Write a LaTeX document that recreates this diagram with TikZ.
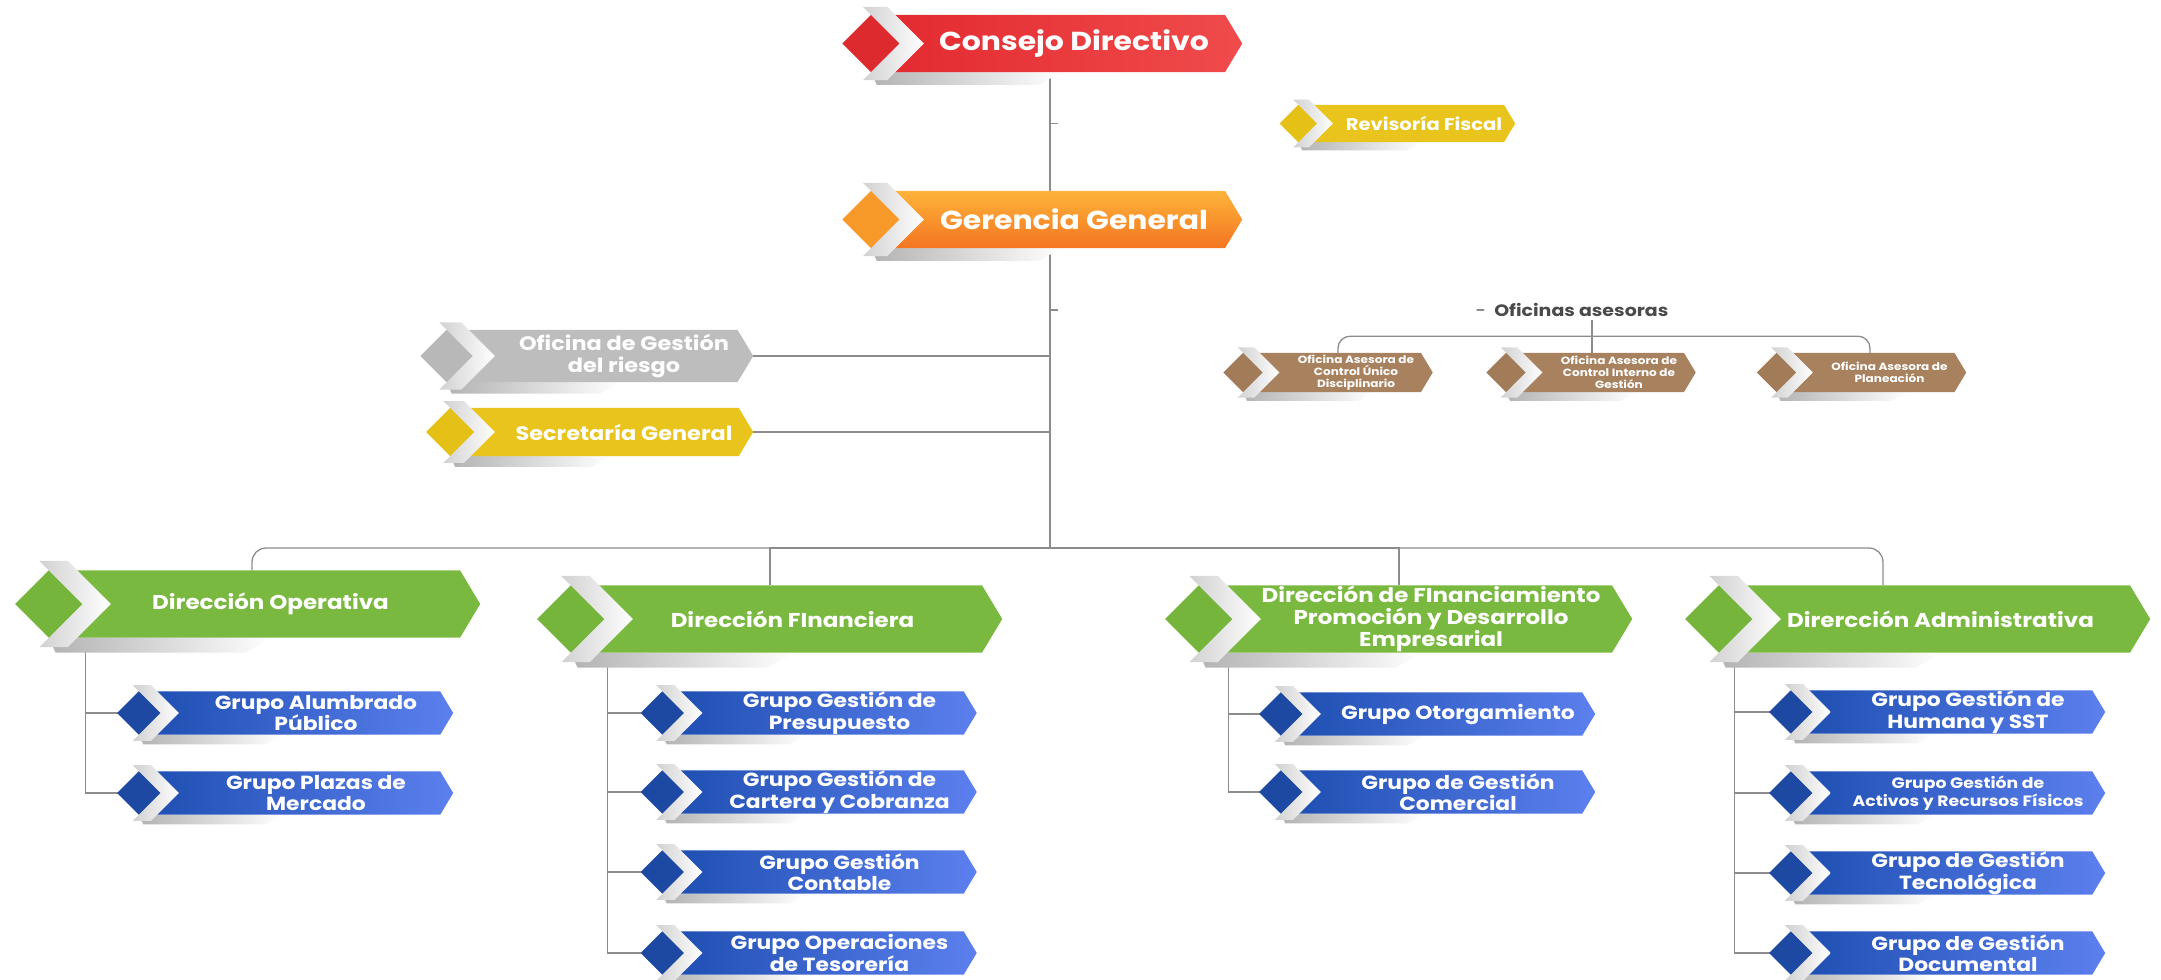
\documentclass[tikz,border=0pt]{standalone}
\usepackage{fontspec}
\setmainfont{Poppins}[FakeStretch=1.15]
\usetikzlibrary{backgrounds,calc}
\definecolor{RojoA}{HTML}{E2292F}
\definecolor{RojoB}{HTML}{F04B4C}
\definecolor{RojoDark}{HTML}{DC2A2E}
\definecolor{NaranjaA}{HTML}{FDB43A}
\definecolor{NaranjaB}{HTML}{F47421}
\definecolor{NaranjaDark}{HTML}{F79A2A}
\definecolor{Amarillo}{HTML}{E8C41C}
\definecolor{AmarilloDark}{HTML}{E5C016}
\definecolor{GrisBox}{HTML}{BDBDBD}
\definecolor{GrisDark}{HTML}{B8B8B8}
\definecolor{Cafe}{HTML}{A8825F}
\definecolor{CafeDark}{HTML}{A27C59}
\definecolor{Verde}{HTML}{7AB940}
\definecolor{VerdeDark}{HTML}{76B53C}
\definecolor{AzulA}{HTML}{1C4DAF}
\definecolor{AzulB}{HTML}{5C80EE}
\definecolor{AzulDark}{HTML}{1D49A3}
\definecolor{Linea}{HTML}{8C8C8C}
\definecolor{TextoGris}{HTML}{4A4A4A}
\pgfdeclarelayer{wires}
\pgfsetlayers{wires,background,main}
\tikzset{
  banner/.style={inner sep=0pt,align=center,text=white},
  topbox/.style={banner,minimum width=318,minimum height=57,
    font=\bfseries\fontsize{26}{30}\selectfont},
  sidebox/.style={banner,minimum width=258,minimum height=50,
    font=\bfseries\fontsize{19.5}{22}\selectfont},
  fiscalbox/.style={banner,minimum width=182,minimum height=37,
    font=\bfseries\fontsize{17}{20}\selectfont},
  asesorbox/.style={banner,minimum width=153,minimum height=39,
    font=\bfseries\fontsize{10.5}{12}\selectfont},
  dirbox/.style={banner,minimum width=319,minimum height=67,
    font=\bfseries\fontsize{20}{22}\selectfont},
  grupobox/.style={banner,minimum width=274,minimum height=43,
    font=\bfseries\fontsize{19}{21.5}\selectfont},
  wire/.style={draw=Linea,line width=1.3pt},
  note/.style={font=\bfseries\fontsize{16.5}{19}\selectfont,text=TextoGris}
}
% banner shape behind a node: diamond, white chevron, body with tip, shadow
% optional: how far the tip reaches beyond the node
\newcommand{\banner}[4][0pt]{%
  \begin{pgfonlayer}{background}
  \path let \p1=(#2.north west), \p2=(#2.south east),
      \n1={\y1-\y2}, \n2={0.42*(\y1-\y2)}, \n3={0.5*(\y1+\y2)},
      \n4={0.14*(\y1-\y2)}, \n5={0.3*(\y1-\y2)} in
    coordinate (#2-dl) at (\x1-\n2-\n1,\n3)
    coordinate (#2-dt) at (\x1-\n2-0.5*\n1,\y1)
    coordinate (#2-db) at (\x1-\n2-0.5*\n1,\y2)
    coordinate (#2-dr) at (\x1-\n2,\n3)
    coordinate (#2-c1) at (\x1-\n2-0.5*\n1-\n4,\y1+\n4)
    coordinate (#2-c2) at (\x1-0.5*\n1-\n4,\y1+\n4)
    coordinate (#2-c3) at (\x1,\n3)
    coordinate (#2-c4) at (\x1-0.5*\n1-\n4,\y2-\n4)
    coordinate (#2-c5) at (\x1-\n2-0.5*\n1-\n4,\y2-\n4)
    coordinate (#2-bt) at (\x2+#1-\n5,\y1)
    coordinate (#2-br) at (\x2+#1,\n3)
    coordinate (#2-bb) at (\x2+#1-\n5,\y2)
    coordinate (#2-s1) at (\x1+2.4*\n1,\y2)
    coordinate (#2-s2) at (\x1+2*\n1,\y2-0.22*\n1)
    coordinate (#2-s3) at (\x1-\n2-0.4*\n1,\y2-0.22*\n1);
  \shade[left color=black!30,right color=white]
    (#2-db) -- (#2-s1) -- (#2-s2) -- (#2-s3) -- cycle;
  \path[#3] (#2-dt) -- (#2-bt) -- (#2-br) -- (#2-bb) -- (#2-db) -- cycle;
  \fill[#4] (#2-dl) -- (#2-dt) -- (#2-dr) -- (#2-db) -- cycle;
  \shade[left color=black!18,right color=white]
    (#2-c1) -- (#2-c2) -- (#2-c3) -- (#2-c4) -- (#2-c5) -- (#2-dr) -- cycle;
  \end{pgfonlayer}}

\begin{document}
\begin{tikzpicture}[x=1pt,y=-1pt]
  \useasboundingbox (0,0) rectangle (2161,980);

  \node[topbox,minimum width=300] (consejo) at (1074,43.5) {Consejo Directivo};
  \node[topbox,minimum width=300] (gerencia) at (1074,219.5) {Gerencia General};
  \node[fiscalbox] (revisoria) at (1424,123.5) {Revisoría Fiscal};
  \node[sidebox,minimum height=52] (riesgo) at (624,356) {Oficina de Gestión\\del riesgo};
  \node[sidebox,minimum height=48] (secretaria) at (624,432) {Secretaría General};

  \node[note] (asesoras) at (1572,310) {{\mdseries -}\enspace Oficinas asesoras};
  \node[asesorbox] (asunico) at (1356,372.5) {Oficina Asesora de\\Control Único\\Disciplinario};
  \node[asesorbox] (asinterno) at (1619,372.5) {Oficina Asesora de\\Control Interno de\\Gestión};
  \node[asesorbox] (asplan) at (1889.5,372.5) {Oficina Asesora de\\Planeación};

  \node[dirbox] (dirop) at (270.5,604) {Dirección Operativa};
  \node[dirbox] (dirfin) at (792.5,619) {Dirección FInanciera};
  \node[dirbox,minimum width=340] (dirfom) at (1431,619) {Dirección de FInanciamiento\\Promoción y Desarrollo\\Empresarial};
  \node[dirbox] (diradm) at (1940.5,619) {Dirercción Administrativa};

  \node[grupobox] (alumbrado) at (316,713) {Grupo Alumbrado\\Público};
  \node[grupobox] (plazas) at (316,793) {Grupo Plazas de\\Mercado};

  \node[grupobox] (presupuesto) at (839.5,713) {Grupo Gestión de\\Presupuesto};
  \node[grupobox] (cartera) at (839.5,792) {Grupo Gestión de\\Cartera y Cobranza};
  \node[grupobox] (contable) at (839.5,872) {Grupo Gestión\\Contable};
  \node[grupobox] (tesoreria) at (839.5,953) {Grupo Operaciones\\de Tesorería};

  \node[grupobox] (otorgamiento) at (1458,714) {Grupo Otorgamiento};
  \node[grupobox] (comercial) at (1458,792) {Grupo de Gestión\\Comercial};

  \node[grupobox] (humana) at (1968,712) {Grupo Gestión de\\Humana y SST};
  \node[grupobox,font=\bfseries\fontsize{15}{17.5}\selectfont] (activos) at (1968,793)
    {Grupo Gestión de\\Activos y Recursos Físicos};
  \node[grupobox] (tecnologica) at (1968,873) {Grupo de Gestión\\Tecnológica};
  \node[grupobox] (documental) at (1968,953) {Grupo de Gestión\\Documental};

  \banner[18pt]{consejo}{left color=RojoA,right color=RojoB}{RojoDark}
  \banner[18pt]{gerencia}{top color=NaranjaA,bottom color=NaranjaB}{NaranjaDark}
  \banner{revisoria}{fill=Amarillo}{AmarilloDark}
  \banner{riesgo}{fill=GrisBox}{GrisDark}
  \banner{secretaria}{fill=Amarillo}{AmarilloDark}
  \foreach \nd in {asunico,asinterno,asplan}
    {\banner{\nd}{fill=Cafe}{CafeDark}}
  \foreach \nd in {dirop,dirfin,diradm}
    {\banner[50pt]{\nd}{fill=Verde}{VerdeDark}}
  \banner[31pt]{dirfom}{fill=Verde}{VerdeDark}
  \foreach \nd in {alumbrado,plazas,presupuesto,cartera,contable,tesoreria,
      otorgamiento,comercial,humana,activos,tecnologica,documental}
    {\banner{\nd}{left color=AzulA,right color=AzulB}{AzulDark}}

  \begin{pgfonlayer}{wires}
    \fill[white] (0,0) rectangle (2161,980);
    \coordinate (tronco) at (1050,548);
    \draw[wire] (consejo.south -| tronco) -- (tronco);
    \draw[wire] (tronco |- revisoria) -- ++(8,0);
    \draw[wire] (tronco |- asesoras) -- ++(8,0);
    \draw[wire] (riesgo.east) -- (riesgo.east -| tronco);
    \draw[wire] (secretaria.east) -- (secretaria.east -| tronco);
    \draw[wire,rounded corners=14] ([xshift=-18.5]dirop.north) |- (tronco)
      -| ([xshift=-57.5]diradm.north);
    \draw[wire] ([xshift=-22.5]dirfin.north) |- (tronco);
    \draw[wire] ([xshift=-32]dirfom.north) |- (tronco);

    \draw[wire,rounded corners=12] ([xshift=-18]asunico.north)
      |- ([yshift=-16]asesoras.south) -| ([xshift=-19.5]asplan.north);
    \draw[wire] ([xshift=-27]asinterno.north) -- ([xshift=-27]asinterno.north |- asesoras.south);

    \foreach \g in {alumbrado,plazas}
      \draw[wire] ([xshift=-25]dirop.south west) |- ([xshift=-61]\g.west);
    \foreach \g in {presupuesto,cartera,contable,tesoreria}
      \draw[wire] ([xshift=-25]dirfin.south west) |- ([xshift=-61]\g.west);
    \foreach \g in {otorgamiento,comercial}
      \draw[wire] ([xshift=-32]dirfom.south west) |- ([xshift=-61]\g.west);
    \foreach \g in {humana,activos,tecnologica,documental}
      \draw[wire] ([xshift=-46]diradm.south west) |- ([xshift=-61]\g.west);
  \end{pgfonlayer}
\end{tikzpicture}
\end{document}
